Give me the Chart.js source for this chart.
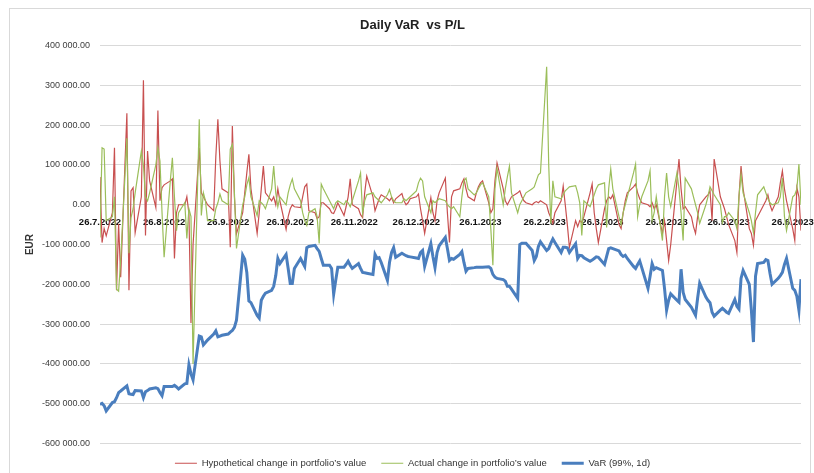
<!DOCTYPE html>
<html>
<head>
<meta charset="utf-8">
<script src="https://cdn.jsdelivr.net/npm/chart.js@4.4.0/dist/chart.umd.min.js"></script>
<style>
  body { margin: 0; background: #fff; }
  canvas { display: block; }
</style>
</head>
<body>
<canvas id="varChart" width="814" height="473"></canvas>
<script>
// business days from 26.7.2022 to 30.6.2023
var startDate = '26.7.2022';
var endDate = '30.6.2023';

// month ticks on the date axis
var tickLabels = ['26.7.2022', '26.8.2022', '26.9.2022', '26.10.2022', '26.11.2022', '26.12.2022',
                  '26.1.2023', '26.2.2023', '26.3.2023', '26.4.2023', '26.5.2023', '26.6.2023'];

// values in thousands of EUR, one per business day (first row = Tue-Fri of first week)
var hypotheticalK = [
  70, -95, -60, -78,
  -20, 143, -215, -48, -182,
  230, -215, 35, 43, -70,
  20, 313, -77, 135, 60,
  -7, 237, 10, 43, 50,
  60, 65, -135, -20, 0,
  0, 20, -22, -297, -100,
  143, 30, 20, 10, 0,
  -15, 120, 215, 110, 40,
  30, -107, 198, 20, -73,
  -20, 30, 80, 127, 40,
  -72, -20, 40, 97, 30,
  10, 20, 0, 40, 10,
  -62, -30, -10, 0, -5,
  -7, 20, 45, 52, -15,
  -20, -35, -30, 5, 5,
  -10, -20, -22, -10, 5,
  -27, -5, 20, 65, 0,
  -10, -25, -32, 30, 72,
  20, -15, 0, 15, 25,
  15, 10, 18, 5, 15,
  28, 10, 0, 5, 15,
  20, 27, -10, -40, -72,
  18, -20, -40, 10, 30,
  67, -20, -95, 20, 35,
  40, 55, 65, 40, 20,
  10, 30, 45, 55, 60,
  5, -20, -10, 60, 105,
  40, 10, 0, 10, 20,
  30, 35, 20, 10, 5,
  0, 5, 8, 5, 10,
  0, -20, -32, -47, -20,
  10, 47, 0, -50, -107,
  -40, -55, -40, -45, -30,
  30, 52, -20, -60, -95,
  -10, 10, 20, 15, 25,
  -50, -60, -20, 10, 30,
  45, 52, 30, 15, 5,
  0, -5, 5, -10, 0,
  -72, -40, -90, -140, -100,
  60, 115, 40, -10, -5,
  -30, -55, -72, -30, 0,
  20, 25, 35, -40, 115,
  20, 5, -10, -30, -50,
  -90, -120, 20, 97, 40,
  -60, -72, -102, -40, -30,
  0, 10, 25, 0, -15,
  20, 55, 85, 40, 10,
  -60, -90, 43, 20, -65
];

var actualK = [
  -82, 143, 140, -40,
  -30, 20, -212, -217, -140,
  167, -122, -32, -10, 30,
  135, 100, 20, 10, 30,
  100, 143, 110, -20, -132,
  60, 118, 20, -65, -20,
  5, -85, -10, -30, -400,
  215, -27, 30, 10, -40,
  -40, -10, 5, 27, 10,
  0, 140, 152, 30, -110,
  0, 20, 50, 68, 20,
  -27, 10, 5, 0, -10,
  40, 97, 30, -5, 20,
  0, 30, 50, 65, 40,
  10, -20, -40, -52, -20,
  -10, -30, -97, 52, 40,
  10, 0, -10, 5, 10,
  0, 10, 5, -5, 10,
  60, 80, -22, 10, 25,
  30, 20, 15, 10, 5,
  25, 38, 20, 10, 5,
  5, 15, 10, 15, 20,
  35, 55, 67, 60, 20,
  -20, 10, 5, 10, 15,
  10, 0, -5, -10, -5,
  -30, 20, 60, 67, 40,
  25, 30, 40, 50, 55,
  20, -60, -152, 40, 92,
  0, 40, 70, 97, 30,
  -20, 0, 10, 20, 30,
  40, 45, 60, 75, 80,
  347, 100, -47, 60, 20,
  15, 25, 35, 40, 45,
  48, 30, 5, -77, 10,
  -5, 10, 25, 40, 50,
  55, -57, 40, 90, 40,
  -30, -50, -20, 0, 20,
  80, 102, -30, 0, 20,
  60, 85, -40, -20, 20,
  -90, 20, 80, 20, -5,
  80, 40, -20, -90, 67,
  40, 20, 0, -20, -47,
  0, 20, 45, 35, 25,
  0, -45, -30, -30, -20,
  -40, -60, 20, 77, 30,
  -20, -40, -70, -20, 25,
  45, 30, 15, 5, 0,
  5, 20, 67, -30, -65,
  20, 25, 40, 102, 0
];

var varK = [
  -502, -499, -505, -518,
  -497, -495, -485, -472, -468,
  -455, -475, -476, -477, -467,
  -468, -485, -470, -467, -463,
  -460, -462, -472, -480, -457,
  -457, -457, -454, -458, -463,
  -450, -449, -402, -425, -440,
  -330, -332, -352, -346, -340,
  -325, -317, -332, -330, -328,
  -325, -320, -316, -308, -290,
  -127, -137, -170, -242, -246,
  -278, -285, -240, -230, -222,
  -215, -205, -178, -135, -148,
  -125, -160, -198, -198, -160,
  -135, -145, -155, -108, -105,
  -102, -110, -117, -135, -152,
  -152, -160, -225, -190, -157,
  -157, -150, -142, -152, -160,
  -148, -160, -170, -171, -172,
  -175, -125, -135, -133, -145,
  -190, -145, -120, -108, -132,
  -122, -125, -128, -130, -131,
  -134, -135, -120, -115, -155,
  -98, -130, -158, -120, -103,
  -82, -110, -140, -135, -137,
  -125, -118, -145, -167, -160,
  -158, -157, -157, -157, -157,
  -156, -160, -175, -182, -185,
  -188, -192, -205, -205, -212,
  -235, -100, -97, -97, -97,
  -115, -140, -130, -105, -93,
  -115, -110, -97, -86, -95,
  -120, -107, -107, -108, -120,
  -98, -135, -127, -128, -133,
  -142, -139, -135, -131, -132,
  -150, -130, -110, -108, -110,
  -116, -125, -130, -127, -135,
  -155, -160, -150, -141, -158,
  -210, -180, -148, -162, -158,
  -165, -210, -265, -240, -224,
  -240, -245, -162, -220, -238,
  -258, -268, -278, -235, -197,
  -232, -240, -246, -270, -280,
  -265, -260, -265, -270, -273,
  -238, -255, -262, -185, -165,
  -200, -265, -345, -180, -148,
  -145, -138, -140, -172, -200,
  -185, -178, -170, -150, -135,
  -210, -215, -230, -265, -187
];

function parseDate(s) {
  var p = s.split('.');
  return Date.UTC(+p[2], +p[1] - 1, +p[0]);
}
var DAY = 86400000;
var t0 = parseDate(startDate);
var t1 = parseDate(endDate);

// category axis: day offset of each business day
var dayOffsets = [];
for (var t = t0; t <= t1; t += DAY) {
  var dow = new Date(t).getUTCDay();
  if (dow !== 0 && dow !== 6) dayOffsets.push(Math.round((t - t0) / DAY));
}
var tickDays = tickLabels.map(function (s) { return Math.round((parseDate(s) - t0) / DAY); });

function toPoints(vals) {
  return vals.map(function (v, i) { return { x: dayOffsets[i], y: v * 1000 }; });
}

function fmtEur(v) {
  var s = Math.abs(v).toFixed(2).split('.');
  return (v < 0 ? '-' : '') + s[0].replace(/\B(?=(\d{3})+(?!\d))/g, ' ') + '.' + s[1];
}

var frame = {
  id: 'frame',
  beforeDraw: function (chart) {
    var c = chart.ctx;
    c.save();
    c.fillStyle = '#fff';
    c.fillRect(0, 0, chart.width, chart.height);
    c.strokeStyle = '#d9d9d9';
    c.lineWidth = 1;
    c.strokeRect(9.5, 8.5, 801, 480);
    c.restore();
  }
};

var ctx = document.getElementById('varChart').getContext('2d');
var varChart = new Chart(ctx, {
  type: 'line',
  data: {
    datasets: [{
      label: 'Hypothetical change in portfolio\u2019s value',
      data: toPoints(hypotheticalK),
      borderColor: 'rgb(200, 80, 80)',
      backgroundColor: 'rgb(200, 80, 80)',
      borderWidth: 1.2,
      order: 3
    }, {
      label: 'Actual change in portfolio\u2019s value',
      data: toPoints(actualK),
      borderColor: 'rgb(155, 190, 90)',
      backgroundColor: 'rgb(155, 190, 90)',
      borderWidth: 1.2,
      order: 2
    }, {
      label: 'VaR (99%, 1d)',
      data: toPoints(varK),
      borderColor: 'rgb(74, 126, 190)',
      backgroundColor: 'rgb(74, 126, 190)',
      borderWidth: 3,
      order: 1
    }]
  },
  options: {
    responsive: false,
    animation: false,
    elements: {
      point: { radius: 0 },
      line: { tension: 0 }
    },
    layout: { padding: { left: 24, right: 13, top: 10, bottom: -5 } },
    scales: {
      x: {
        type: 'linear',
        position: { y: 0 },
        min: 0,
        max: dayOffsets[dayOffsets.length - 1],
        z: 1,
        grid: { display: false },
        border: { display: false },
        afterBuildTicks: function (scale) {
          scale.ticks = tickDays.map(function (d) { return { value: d }; });
        },
        afterFit: function (scale) {
          scale.paddingLeft = 0;
          scale.paddingRight = 0;
        },
        ticks: {
          autoSkip: false,
          maxRotation: 0,
          padding: 4,
          color: '#111',
          font: { family: 'Liberation Sans', size: 9.5, weight: 'bold' },
          callback: function (v) { return tickLabels[tickDays.indexOf(v)]; }
        }
      },
      y: {
        min: -600000,
        max: 400000,
        afterFit: function (scale) { scale.width = 76; },
        grid: { color: '#d9d9d9', drawTicks: false },
        border: { display: false },
        ticks: {
          stepSize: 100000,
          padding: 10,
          color: '#404040',
          font: { family: 'Liberation Sans', size: 9 },
          callback: function (v) { return fmtEur(v); }
        },
        title: {
          display: true,
          text: 'EUR',
          color: '#333',
          padding: 0,
          font: { family: 'Liberation Sans', size: 10, weight: 'bold' }
        }
      }
    },
    plugins: {
      title: {
        display: true,
        text: 'Daily VaR  vs P/L',
        color: '#222',
        padding: { top: 7.5, bottom: 12.5 },
        font: { family: 'Liberation Sans', size: 13, weight: 'bold' }
      },
      legend: {
        position: 'bottom',
        labels: {
          usePointStyle: true,
          pointStyle: 'line',
          pointStyleWidth: 22,
          padding: 15,
          color: '#333',
          font: { family: 'Liberation Sans', size: 9.5 },
          sort: function (a, b) { return a.datasetIndex - b.datasetIndex; }
        }
      },
      tooltip: { enabled: false }
    }
  },
  plugins: [frame]
});
</script>
</body>
</html>
